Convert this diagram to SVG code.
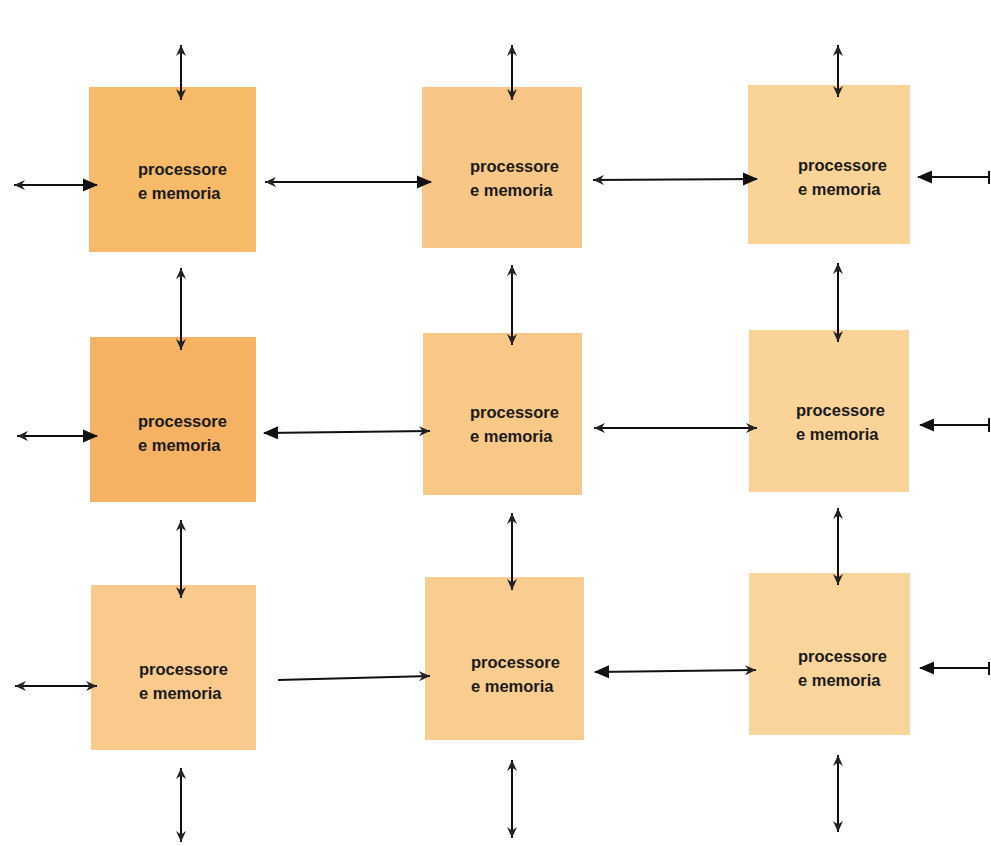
<svg xmlns="http://www.w3.org/2000/svg" width="991" height="846" viewBox="0 0 991 846">
<style>
.n{stroke:none}
.t{font-family:"Liberation Sans",Arial,sans-serif;font-weight:bold;font-size:16.5px;fill:#1a1a1a}
.c line{stroke:#111;stroke-width:2}
</style>
<defs>
<marker id="big" markerUnits="userSpaceOnUse" markerWidth="16" markerHeight="14" refX="14" refY="7" orient="auto-start-reverse"><path d="M0,0.5 L15,7 L0,13.5 z" fill="#111"/></marker>
<marker id="sm" markerUnits="userSpaceOnUse" markerWidth="13" markerHeight="13" refX="11" refY="6.5" orient="auto-start-reverse"><path d="M0,1.5 L11,6.5 L0,11.5 L3.5,6.5 z" fill="#222"/></marker>
</defs>
<rect width="991" height="846" fill="#ffffff"/>
<g id="n11"><rect class="n" x="89" y="87" width="167" height="165" fill="#f6ba69"/><text class="t" x="138" y="175">processore</text><text class="t" x="138" y="199">e memoria</text></g>
<g id="n12"><rect class="n" x="422" y="87" width="160" height="161" fill="#f8c686"/><text class="t" x="470" y="172">processore</text><text class="t" x="470" y="196">e memoria</text></g>
<g id="n13"><rect class="n" x="748" y="85" width="162" height="159" fill="#fad496"/><text class="t" x="798" y="171">processore</text><text class="t" x="798" y="195">e memoria</text></g>
<g id="n21"><rect class="n" x="90" y="337" width="166" height="165" fill="#f5b263"/><text class="t" x="138" y="427">processore</text><text class="t" x="138" y="451">e memoria</text></g>
<g id="n22"><rect class="n" x="423" y="333" width="159" height="162" fill="#f8c887"/><text class="t" x="470" y="418">processore</text><text class="t" x="470" y="442">e memoria</text></g>
<g id="n23"><rect class="n" x="749" y="330" width="160" height="162" fill="#fad398"/><text class="t" x="796" y="416">processore</text><text class="t" x="796" y="440">e memoria</text></g>
<g id="n31"><rect class="n" x="91" y="585" width="165" height="165" fill="#f9ca8c"/><text class="t" x="139" y="675">processore</text><text class="t" x="139" y="699">e memoria</text></g>
<g id="n32"><rect class="n" x="425" y="577" width="159" height="163" fill="#f9cd8f"/><text class="t" x="471" y="668">processore</text><text class="t" x="471" y="692">e memoria</text></g>
<g id="n33"><rect class="n" x="749" y="573" width="161" height="162" fill="#fad59b"/><text class="t" x="798" y="662">processore</text><text class="t" x="798" y="686">e memoria</text></g>
<g id="connectors" class="c">
<line x1="181" y1="45" x2="181" y2="100" marker-start="url(#sm)" marker-end="url(#sm)"/>
<line x1="512" y1="45" x2="512" y2="100" marker-start="url(#sm)" marker-end="url(#sm)"/>
<line x1="838" y1="45" x2="838" y2="97" marker-start="url(#sm)" marker-end="url(#sm)"/>
<line x1="181" y1="268" x2="181" y2="350" marker-start="url(#sm)" marker-end="url(#sm)"/>
<line x1="512" y1="265" x2="512" y2="345" marker-start="url(#sm)" marker-end="url(#sm)"/>
<line x1="838" y1="263" x2="838" y2="342" marker-start="url(#sm)" marker-end="url(#sm)"/>
<line x1="181" y1="520" x2="181" y2="598" marker-start="url(#sm)" marker-end="url(#sm)"/>
<line x1="512" y1="513" x2="512" y2="590" marker-start="url(#sm)" marker-end="url(#sm)"/>
<line x1="838" y1="508" x2="838" y2="585" marker-start="url(#sm)" marker-end="url(#sm)"/>
<line x1="181" y1="768" x2="181" y2="842" marker-start="url(#sm)" marker-end="url(#sm)"/>
<line x1="512" y1="760" x2="512" y2="838" marker-start="url(#sm)" marker-end="url(#sm)"/>
<line x1="838" y1="755" x2="838" y2="832" marker-start="url(#sm)" marker-end="url(#sm)"/>
<line x1="14" y1="185" x2="97" y2="185" marker-start="url(#sm)" marker-end="url(#big)"/>
<line x1="265" y1="182" x2="431" y2="182" marker-start="url(#sm)" marker-end="url(#big)"/>
<line x1="593" y1="180" x2="757" y2="179" marker-start="url(#sm)" marker-end="url(#big)"/>
<line x1="918" y1="177" x2="989" y2="177" marker-start="url(#big)"/>
<line x1="989" y1="171" x2="989" y2="184"/>
<line x1="17" y1="436" x2="97" y2="436" marker-start="url(#sm)" marker-end="url(#big)"/>
<line x1="264" y1="433" x2="430" y2="431" marker-start="url(#big)" marker-end="url(#sm)"/>
<line x1="594" y1="428" x2="757" y2="428" marker-start="url(#sm)" marker-end="url(#sm)"/>
<line x1="920" y1="425" x2="989" y2="425" marker-start="url(#big)"/>
<line x1="989" y1="418" x2="989" y2="432"/>
<line x1="15" y1="686" x2="97" y2="686" marker-start="url(#sm)" marker-end="url(#sm)"/>
<line x1="278" y1="680" x2="430" y2="676" marker-end="url(#sm)"/>
<line x1="595" y1="672" x2="756" y2="670" marker-start="url(#big)" marker-end="url(#sm)"/>
<line x1="920" y1="668" x2="989" y2="668" marker-start="url(#big)"/>
<line x1="989" y1="662" x2="989" y2="675"/>
</g>
</svg>
